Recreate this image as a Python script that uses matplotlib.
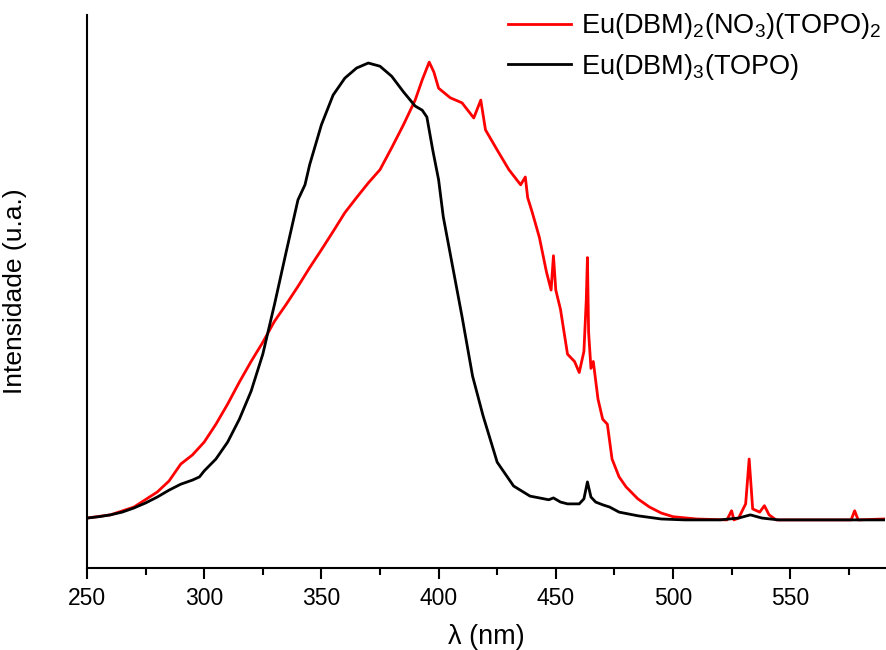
import numpy as np
import matplotlib
matplotlib.use("Agg")
from matplotlib import pyplot as plt
from matplotlib.ticker import MultipleLocator

plt.rcParams['font.family'] = ['Liberation Sans', 'DejaVu Sans']
plt.rcParams['mathtext.fontset'] = 'custom'
plt.rcParams['mathtext.rm'] = 'Liberation Sans'
plt.rcParams['mathtext.default'] = 'regular'

# Eu(DBM)3(TOPO) - black
wl_black = [250, 255, 260, 265, 270, 275, 280, 285, 290, 295, 298, 300, 305, 310,
            315, 320, 325, 330, 335, 340, 343, 345, 350, 355, 360, 365, 370, 375,
            380, 385, 390, 393, 395, 397.5, 400, 402, 406, 410, 414.5, 419, 425,
            432, 439, 447, 449, 452, 455, 460, 462, 463.5, 465, 467, 470, 473, 477,
            485, 495, 505, 520, 528, 533, 538, 545, 590]
int_black = [0.4, 0.7, 1.1, 1.7, 2.6, 3.7, 5.0, 6.5, 7.8, 8.7, 9.4, 10.7, 13.3, 17.0,
             22.0, 28.1, 36.2, 47.1, 58.6, 69.9, 73.2, 77.6, 86.3, 92.8, 96.5, 98.7,
             99.8, 99.1, 96.9, 93.5, 90.4, 89.5, 88.0, 80.8, 74.3, 66.2, 55.3, 44.4,
             31.4, 22.7, 12.6, 7.4, 5.2, 4.4, 4.8, 3.9, 3.5, 3.5, 4.6, 8.3, 5.0, 3.9,
             3.3, 2.8, 1.7, 0.9, 0.2, 0.0, 0.0, 0.4, 1.1, 0.4, 0.0, 0.0]

# Eu(DBM)2(NO3)(TOPO)2 - red
wl_red = [250, 260, 270, 280, 285, 290, 295, 300, 305, 310, 315, 320, 325, 330, 335,
          340, 345, 350, 355, 360, 365, 370, 375, 380, 385, 390, 393, 396, 398, 400,
          405, 410, 415, 418, 420, 425, 430, 435, 437, 438, 440, 443, 446, 448, 449,
          450, 452, 455, 458, 460, 462, 463, 463.5, 464, 465, 466, 468, 470, 472,
          474, 477, 480, 485, 490, 495, 500, 510, 523, 525, 526, 528, 531, 532.5,
          534, 537, 539, 541, 544, 576, 577.5, 579, 590]
int_red = [0.4, 1.1, 2.8, 6.1, 8.5, 12.2, 14.2, 17.0, 20.9, 25.3, 30.1, 34.6, 38.8,
           43.4, 47.1, 51.0, 55.1, 59.0, 63.0, 67.1, 70.4, 73.6, 76.5, 81.3, 86.3,
           91.7, 96.1, 100.0, 97.8, 94.3, 92.2, 91.1, 87.8, 91.7, 85.2, 80.8, 76.5,
           73.2, 74.9, 70.4, 67.1, 61.7, 54.2, 50.2, 57.7, 50.2, 46.0, 36.2, 34.6,
           32.2, 36.8, 48.0, 57.3, 41.0, 33.1, 34.6, 26.4, 22.0, 20.9, 13.3, 9.4, 7.2,
           4.6, 2.8, 1.5, 0.7, 0.2, 0.0, 2.0, 0.0, 0.4, 3.5, 13.3, 2.4, 1.7, 3.1,
           1.1, 0.0, 0.0, 2.0, 0.0, 0.2]

fig = plt.figure(figsize=(8.86, 6.5), dpi=100)
ax = fig.add_axes([0.0982, 0.1262, 0.9008, 0.8508])

ax.plot(wl_red, int_red, color='#ff0000', lw=2.0,
        label='Eu(DBM)$_2$(NO$_3$)(TOPO)$_2$')
ax.plot(wl_black, int_black, color='black', lw=2.0,
        label='Eu(DBM)$_3$(TOPO)')

ax.set_xlim(250, 590.5)
ax.set_ylim(-10.5, 110.3)

ax.spines['top'].set_visible(False)
ax.spines['right'].set_visible(False)
ax.spines['left'].set_linewidth(1.5)
ax.spines['bottom'].set_linewidth(1.5)

ax.xaxis.set_major_locator(MultipleLocator(50))
ax.xaxis.set_minor_locator(MultipleLocator(25))
ax.tick_params(axis='x', which='major', direction='out', length=8, width=1.5,
               labelsize=16.5, pad=6)
ax.tick_params(axis='x', which='minor', direction='out', length=5, width=1.5)
ax.set_yticks([])

ax.set_xlabel('λ (nm)', fontsize=19.5, labelpad=10)
ax.set_ylabel('Intensidade (u.a.)', fontsize=19, labelpad=43)

leg = ax.legend(loc='upper right', bbox_to_anchor=(0.999, 1.012), frameon=False,
                fontsize=19.5, handlelength=2.33, handletextpad=0.37,
                labelspacing=0.4, borderaxespad=0.0, borderpad=0.1)

fig.savefig('out.png', dpi=100)
